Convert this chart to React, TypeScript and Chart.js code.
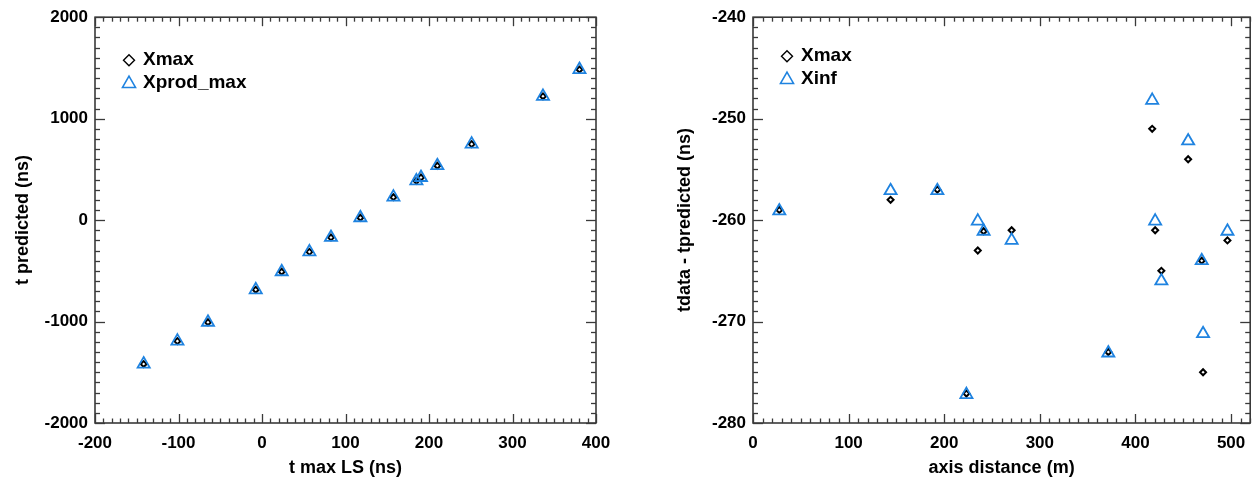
import React, { useEffect, useRef } from "react";
import { Chart, registerables } from "chart.js";

Chart.register(...registerables);

// ---- Left panel data ----
const leftX = [-141.7, -101.3, -64.7, -7.5, 23.6, 56.8, 82.6, 117.8, 157.4, 184.9, 190.4, 210.0, 251.1, 336.5, 380.2];
const leftXmax = [-1419, -1193, -1007, -687, -509, -313, -171, 23, 226, 387, 420, 536, 749, 1220, 1484];
const leftXprodMax = [-1419, -1193, -1007, -687, -509, -313, -171, 23, 226, 387, 420, 536, 749, 1220, 1484];

// ---- Right panel data ----
const rightX = [27.5, 143.9, 192.8, 223.2, 235.1, 241.2, 270.5, 371.6, 417.5, 420.6, 427.1, 455.1, 469.3, 470.7, 496.2];
const rightXmax = [-259.0, -258.0, -257.0, -277.1, -263.0, -261.1, -261.0, -273.0, -251.0, -261.0, -265.0, -254.0, -264.0, -275.0, -262.0];
const rightXinf = [-259.1, -257.1, -257.1, -277.2, -260.1, -261.1, -262.0, -273.1, -248.2, -260.1, -266.0, -252.2, -264.0, -271.2, -261.1];

const leftXTicks = [-200, -100, 0, 100, 200, 300, 400];
const leftYTicks = [-2000, -1000, 0, 1000, 2000];
const rightXTicks = [0, 100, 200, 300, 400, 500];
const rightYTicks = [-280, -270, -260, -250, -240];

const BLUE = "#1f83e0";
const FONT = "'Liberation Sans', Arial, Helvetica, sans-serif";

function toPts(xs: number[], ys: number[]) {
  return xs.map((x, i) => ({ x, y: ys[i] }));
}

const framePlugin = {
  id: "idlFrame",
  afterDraw(chart: any, _args: any, opts: any) {
    const { ctx, chartArea: a, scales } = chart;
    const x = scales.x;
    const y = scales.y;
    ctx.save();
    ctx.strokeStyle = "#3a3a3a";
    ctx.lineWidth = 1.6;
    ctx.strokeRect(a.left, a.top, a.right - a.left, a.bottom - a.top);
    ctx.lineWidth = 1.3;
    const line = (x1: number, y1: number, x2: number, y2: number) => {
      ctx.beginPath();
      ctx.moveTo(x1, y1);
      ctx.lineTo(x2, y2);
      ctx.stroke();
    };
    const nx = Math.round((x.max - x.min) / opts.xMinor);
    for (let i = 0; i <= nx; i++) {
      const v = x.min + i * opts.xMinor;
      const r = v / opts.xMajor;
      const major = Math.abs(r - Math.round(r)) < 1e-6;
      const len = major ? 9 : 4.5;
      const px = Math.round(x.getPixelForValue(v)) + 0.5;
      line(px, a.bottom, px, a.bottom - len);
      line(px, a.top, px, a.top + len);
    }
    const ny = Math.round((y.max - y.min) / opts.yMinor);
    for (let i = 0; i <= ny; i++) {
      const v = y.min + i * opts.yMinor;
      const r = v / opts.yMajor;
      const major = Math.abs(r - Math.round(r)) < 1e-6;
      const len = major ? 10 : 5;
      const py = Math.round(y.getPixelForValue(v)) + 0.5;
      line(a.left, py, a.left + len, py);
      line(a.right, py, a.right - len, py);
    }
    // legend
    const lx = a.left + opts.legendX;
    let ly = a.top + opts.legendY;
    ctx.font = `bold 19px ${FONT}`;
    ctx.textBaseline = "middle";
    ctx.textAlign = "left";
    for (const item of opts.items) {
      ctx.beginPath();
      if (item.shape === "diamond") {
        ctx.strokeStyle = "#000";
        ctx.lineWidth = 1.4;
        const r = 5.5;
        ctx.moveTo(lx, ly - r);
        ctx.lineTo(lx + r, ly);
        ctx.lineTo(lx, ly + r);
        ctx.lineTo(lx - r, ly);
        ctx.closePath();
      } else {
        ctx.strokeStyle = BLUE;
        ctx.lineWidth = 1.6;
        const r = 7.5;
        const cy = ly + 1;
        ctx.moveTo(lx, cy - r);
        ctx.lineTo(lx + r * 0.866, cy + r * 0.5);
        ctx.lineTo(lx - r * 0.866, cy + r * 0.5);
        ctx.closePath();
      }
      ctx.stroke();
      ctx.fillStyle = "#000";
      ctx.fillText(item.label, lx + 14, ly);
      ly += opts.legendStep;
    }
    ctx.restore();
  },
};

function makeConfig(p: any) {
  return {
    type: "scatter",
    data: {
      datasets: [
        {
          label: p.labels[1],
          data: p.d2,
          pointStyle: "triangle",
          pointRadius: 7,
          pointBorderWidth: 1.8,
          pointBorderColor: BLUE,
          pointBackgroundColor: "rgba(0,0,0,0)",
          showLine: false,
        },
        {
          label: p.labels[0],
          data: p.d1,
          pointStyle: "rectRot",
          pointRadius: 3,
          pointBorderWidth: 2,
          pointBorderColor: "#000",
          pointBackgroundColor: "rgba(0,0,0,0)",
          showLine: false,
        },
      ],
    },
    options: {
      responsive: false,
      animation: false,
      events: [],
      layout: { padding: { left: 0, right: p.padRight, top: 10, bottom: 0 } },
      plugins: {
        legend: { display: false },
        tooltip: { enabled: false },
        idlFrame: {
          xMinor: p.xMinor,
          xMajor: p.xMajor,
          yMinor: p.yMinor,
          yMajor: p.yMajor,
          legendX: 34,
          legendY: p.legendY,
          legendStep: 22.5,
          items: [
            { shape: "diamond", label: p.labels[0] },
            { shape: "triangle", label: p.labels[1] },
          ],
        },
      },
      scales: {
        x: {
          type: "linear",
          min: p.xMin,
          max: p.xMax,
          afterFit: (s: any) => {
            s.height = 60;
          },
          afterBuildTicks: (s: any) => {
            s.ticks = p.xTicks.map((v: number) => ({ value: v }));
          },
          grid: { display: false, drawTicks: false },
          border: { display: false },
          ticks: {
            padding: 10,
            color: "#000",
            maxRotation: 0,
            autoSkip: false,
            callback: (v: any) => String(v),
            font: { family: FONT, size: 17, weight: "bold" },
          },
          title: {
            display: true,
            text: p.xTitle,
            color: "#000",
            font: { family: FONT, size: 18, weight: "bold" },
            padding: { top: 0, bottom: 4 },
          },
        },
        y: {
          type: "linear",
          min: p.yMin,
          max: p.yMax,
          afterFit: (s: any) => {
            s.width = p.yWidth;
          },
          afterBuildTicks: (s: any) => {
            s.ticks = p.yTicks.map((v: number) => ({ value: v }));
          },
          grid: { display: false, drawTicks: false },
          border: { display: false },
          ticks: {
            padding: 7,
            color: "#000",
            autoSkip: false,
            callback: (v: any) => String(v),
            font: { family: FONT, size: 17, weight: "bold" },
          },
          title: {
            display: true,
            text: p.yTitle,
            color: "#000",
            font: { family: FONT, size: 18, weight: "bold" },
            padding: { top: p.yTitlePad, bottom: 0 },
          },
        },
      },
    },
    plugins: [framePlugin],
  };
}

function Panel(props: { cfg: any; left: number; width: number }) {
  const ref = useRef<HTMLCanvasElement | null>(null);
  useEffect(() => {
    if (!ref.current) return;
    const chart = new Chart(ref.current, props.cfg as any);
    return () => chart.destroy();
  }, []);
  return (
    <canvas
      ref={ref}
      width={props.width}
      height={483}
      style={{ position: "absolute", left: props.left, top: 0, width: props.width, height: 483 }}
    />
  );
}

export default function App() {
  const leftCfg = makeConfig({
    d1: toPts(leftX, leftXmax),
    d2: toPts(leftX, leftXprodMax),
    labels: ["Xmax", "Xprod_max"],
    xMin: -200,
    xMax: 400,
    yMin: -2000,
    yMax: 2000,
    xTicks: leftXTicks,
    yTicks: leftYTicks,
    xMinor: 10,
    xMajor: 100,
    yMinor: 100,
    yMajor: 1000,
    xTitle: "t max LS (ns)",
    yTitle: "t predicted (ns)",
    yWidth: 95,
    yTitlePad: 12,
    padRight: 34,
    legendY: 43,
  });
  const rightCfg = makeConfig({
    d1: toPts(rightX, rightXmax),
    d2: toPts(rightX, rightXinf),
    labels: ["Xmax", "Xinf"],
    xMin: 0,
    xMax: 520,
    yMin: -280,
    yMax: -240,
    xTicks: rightXTicks,
    yTicks: rightYTicks,
    xMinor: 10,
    xMajor: 100,
    yMinor: 1,
    yMajor: 10,
    xTitle: "axis distance (m)",
    yTitle: "tdata - tpredicted (ns)",
    yWidth: 123,
    yTitlePad: 44,
    padRight: 5,
    legendY: 39,
  });
  return (
    <div style={{ position: "absolute", left: 0, top: 0, width: 1259, height: 483, background: "#fff" }}>
      <Panel cfg={leftCfg} left={0} width={630} />
      <Panel cfg={rightCfg} left={630} width={629} />
    </div>
  );
}
